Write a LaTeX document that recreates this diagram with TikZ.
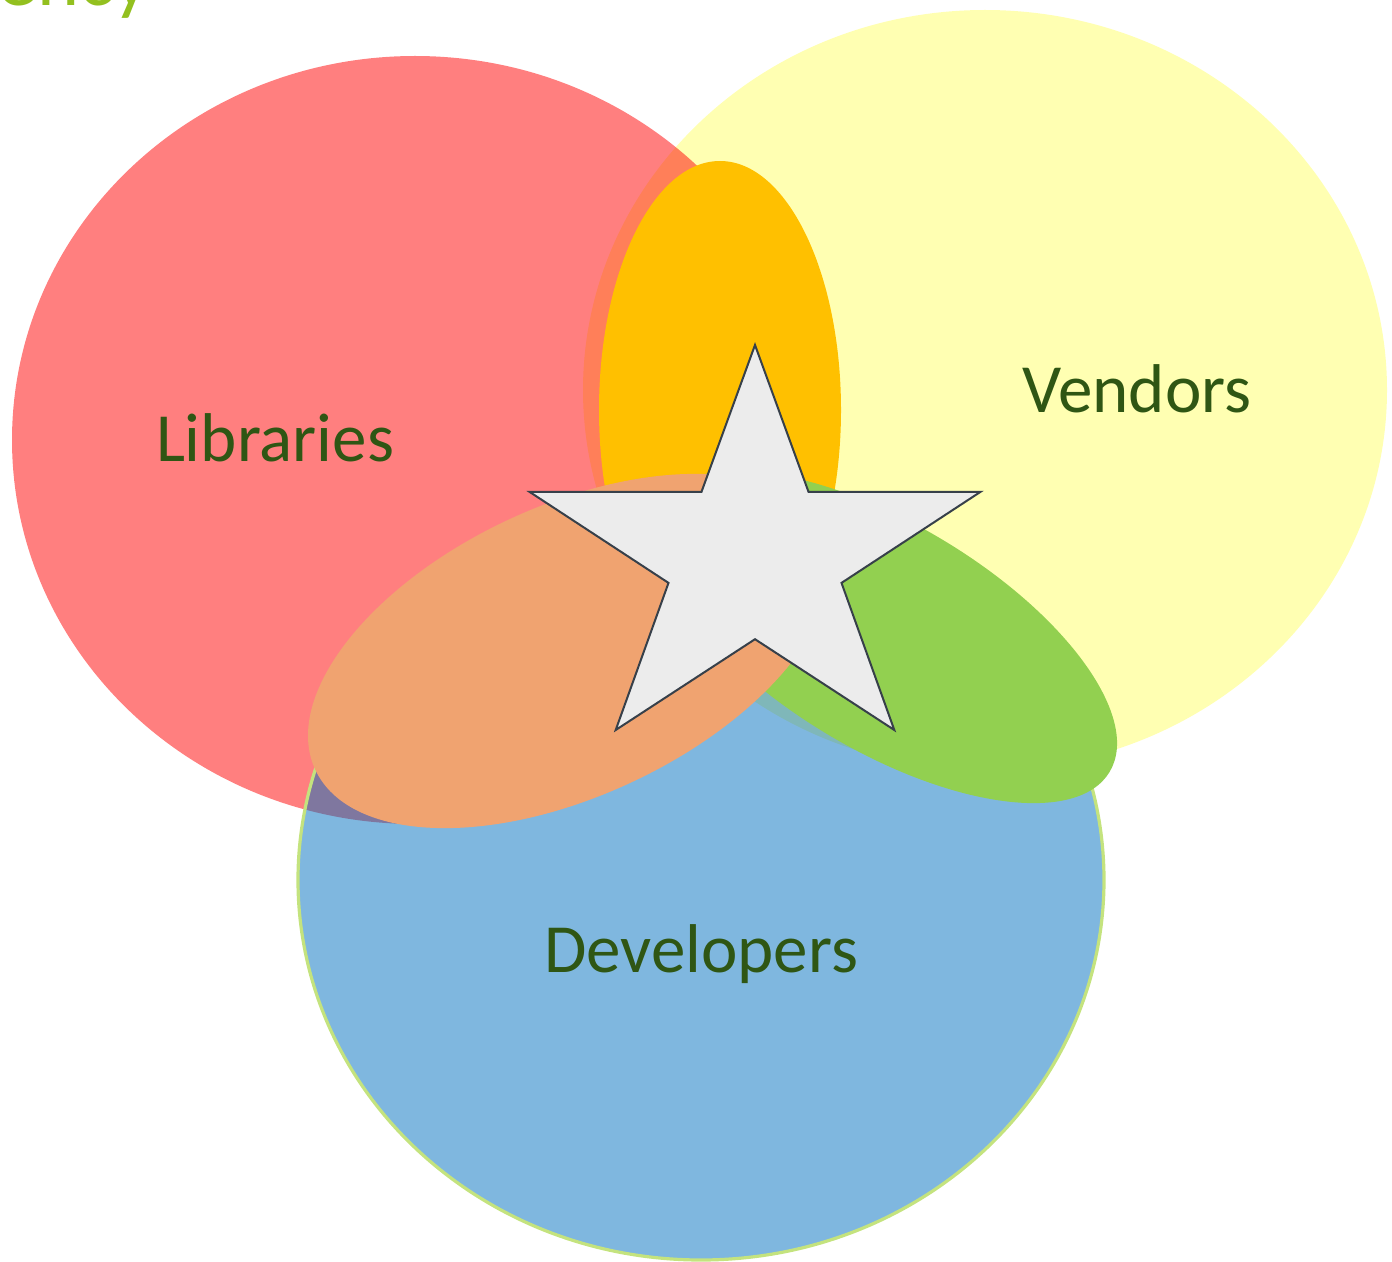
\documentclass[tikz,border=0pt]{standalone}
\usepackage{fontspec}
\setmainfont{Carlito}

\definecolor{libred}{HTML}{FF0000}
\definecolor{vendyellow}{HTML}{FFFF66}
\definecolor{devblue}{HTML}{0070C0}
\definecolor{devrim}{HTML}{C4E37E}
\definecolor{lvorange}{HTML}{FFC000}
\definecolor{ldsalmon}{HTML}{F0A370}
\definecolor{vdgreen}{HTML}{92D050}
\definecolor{textgreen}{HTML}{2F5614}
\definecolor{titlegreen}{HTML}{93C01F}
\definecolor{starfill}{HTML}{ECECEC}
\definecolor{starline}{HTML}{37404A}

\begin{document}
\begin{tikzpicture}[x=0.5pt, y=-0.5pt,
    setname/.style={inner sep=0pt, anchor=base, text=textgreen,
      font=\fontsize{34.5}{40}\selectfont}]

  \useasboundingbox (0,0) rectangle (1392,1262);

  % title, cut off at the top
  \node[inner sep=0pt, anchor=base east, text=titlegreen,
    font=\fontsize{40}{48}\selectfont] (title) at (150,6) {ency};

  % the three sets
  \fill[vendyellow, opacity=0.5] (985,390) ellipse [x radius=402, y radius=380];
  \fill[libred, opacity=0.5] (415,440) ellipse [x radius=403, y radius=384];
  \fill[devblue, opacity=0.5] (701,880) ellipse [x radius=403, y radius=380];
  \draw[devrim, line width=1.6pt] (701,880) ellipse [x radius=403, y radius=380];

  % the overlaps
  \fill[lvorange] (720,410) ellipse [x radius=121, y radius=249];
  \fill[vdgreen, rotate around={-31:(885,637)}]
    (885,637) ellipse [x radius=262, y radius=113];
  \fill[ldsalmon, rotate around={25:(570,651)}]
    (570,651) ellipse [x radius=281, y radius=145];

  % the star in the middle
  \draw[fill=starfill, draw=starline, line width=1pt, line join=miter]
    (755,345) -- (808.5,491.8) -- (980.4,491.9) -- (841.5,582.9)
    -- (894.3,730) -- (755,639.2) -- (615.7,730) -- (668.5,582.9)
    -- (529.6,491.9) -- (701.5,491.8) -- cycle;

  \node[setname] (lib) at (275,462) {Libraries};
  \node[setname] (vend) at (1137,413) {Vendors};
  \node[setname] (dev) at (701,972) {Developers};

\end{tikzpicture}
\end{document}
